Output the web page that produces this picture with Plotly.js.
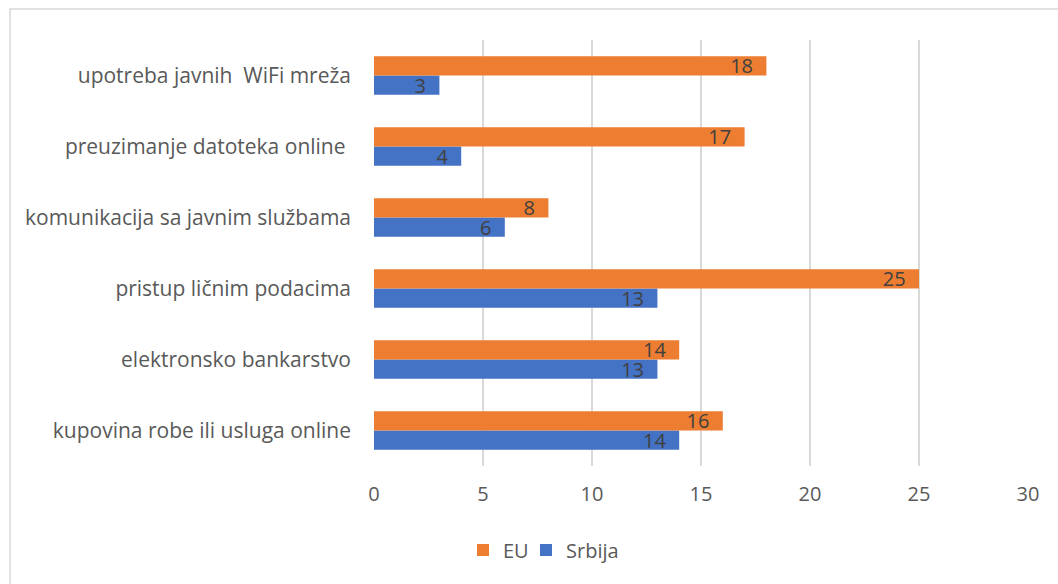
<!DOCTYPE html>
<html>
<head>
<meta charset="utf-8">
<script src="https://cdn.plot.ly/plotly-3.0.1.min.js"></script>
<style>
html,body{margin:0;padding:0;background:#fff;}
#chart{width:1058px;height:584px;}
</style>
</head>
<body>
<div id="chart"></div>
<script>
const categories = [
  "kupovina robe ili usluga online",
  "elektronsko bankarstvo",
  "pristup ličnim podacima",
  "komunikacija sa javnim službama",
  "preuzimanje datoteka online ",
  "upotreba javnih  WiFi mreža"
];
const euValues = [16, 14, 25, 8, 17, 18];
const srbijaValues = [14, 13, 13, 6, 4, 3];
const seriesNames = ["EU", "Srbija"];
const xTicks = [0, 5, 10, 15, 20, 25, 30];

const FONT = "Open Sans, Liberation Sans, Arial, sans-serif";
const displayCats = categories.map(c => c.replace(/  /g, " \u00a0"));

const labelFont = {family: FONT, size: 20, color: "#404040"};

const traces = [
  {
    type: "bar", orientation: "h", name: seriesNames[1], legend: "legend2",
    y: displayCats, x: srbijaValues,
    marker: {color: "#4472C4"},
    texttemplate: "%{x}\u00a0\u00a0",
    textposition: "inside", insidetextanchor: "end", textangle: 0,
    constraintext: "none", textfont: labelFont,
    hoverinfo: "x+y"
  },
  {
    type: "bar", orientation: "h", name: seriesNames[0], legend: "legend",
    y: displayCats, x: euValues,
    marker: {color: "#ED7D31"},
    texttemplate: "%{x}\u00a0\u00a0",
    textposition: "inside", insidetextanchor: "end", textangle: 0,
    constraintext: "none", textfont: labelFont,
    hoverinfo: "x+y"
  }
];

const L = 374, R = 30, T = 40, B = 118;
const pw = 1058 - L - R, ph = 584 - T - B;
const legY = -(550 - (T + ph)) / ph;
const legFont = {family: FONT, size: 20, color: "#595959"};

const layout = {
  width: 1058, height: 584,
  margin: {l: L, r: R, t: T, b: B, pad: 0},
  paper_bgcolor: "#ffffff", plot_bgcolor: "#ffffff",
  barmode: "group", bargap: 0.46, bargroupgap: 0,
  font: {family: FONT, color: "#595959", size: 20},
  xaxis: {
    range: [0, 30], tickvals: xTicks, ticktext: xTicks.map(String),
    showgrid: true, gridcolor: "#d9d9d9", gridwidth: 1.5,
    zeroline: false, showline: false, ticks: "",
    tickfont: {family: FONT, size: 20, color: "#595959"},
    ticklabelstandoff: 14, fixedrange: true
  },
  yaxis: {
    type: "category", categoryorder: "array", categoryarray: displayCats,
    showgrid: false, zeroline: false, showline: false, ticks: "",
    tickfont: {family: FONT, size: 21, color: "#595959"},
    ticklabelstandoff: 22, fixedrange: true
  },
  showlegend: true,
  legend: {
    orientation: "h",
    x: (463 - L) / pw, xanchor: "left",
    y: legY, yanchor: "middle",
    font: legFont, itemwidth: 30, bgcolor: "rgba(0,0,0,0)"
  },
  legend2: {
    orientation: "h",
    x: (526 - L) / pw, xanchor: "left",
    y: legY, yanchor: "middle",
    font: legFont, itemwidth: 30, bgcolor: "rgba(0,0,0,0)"
  },
  shapes: [{
    type: "rect", xref: "paper", yref: "paper", layer: "below",
    x0: (10 - L) / pw, x1: (1070 - L) / pw,
    y0: -(600 - (T + ph)) / ph, y1: (T + ph - 9) / ph,
    line: {color: "#d9d9d9", width: 1.5}, fillcolor: "rgba(0,0,0,0)"
  }]
};

Plotly.newPlot("chart", traces, layout, {displayModeBar: false, staticPlot: true});
</script>
</body>
</html>
